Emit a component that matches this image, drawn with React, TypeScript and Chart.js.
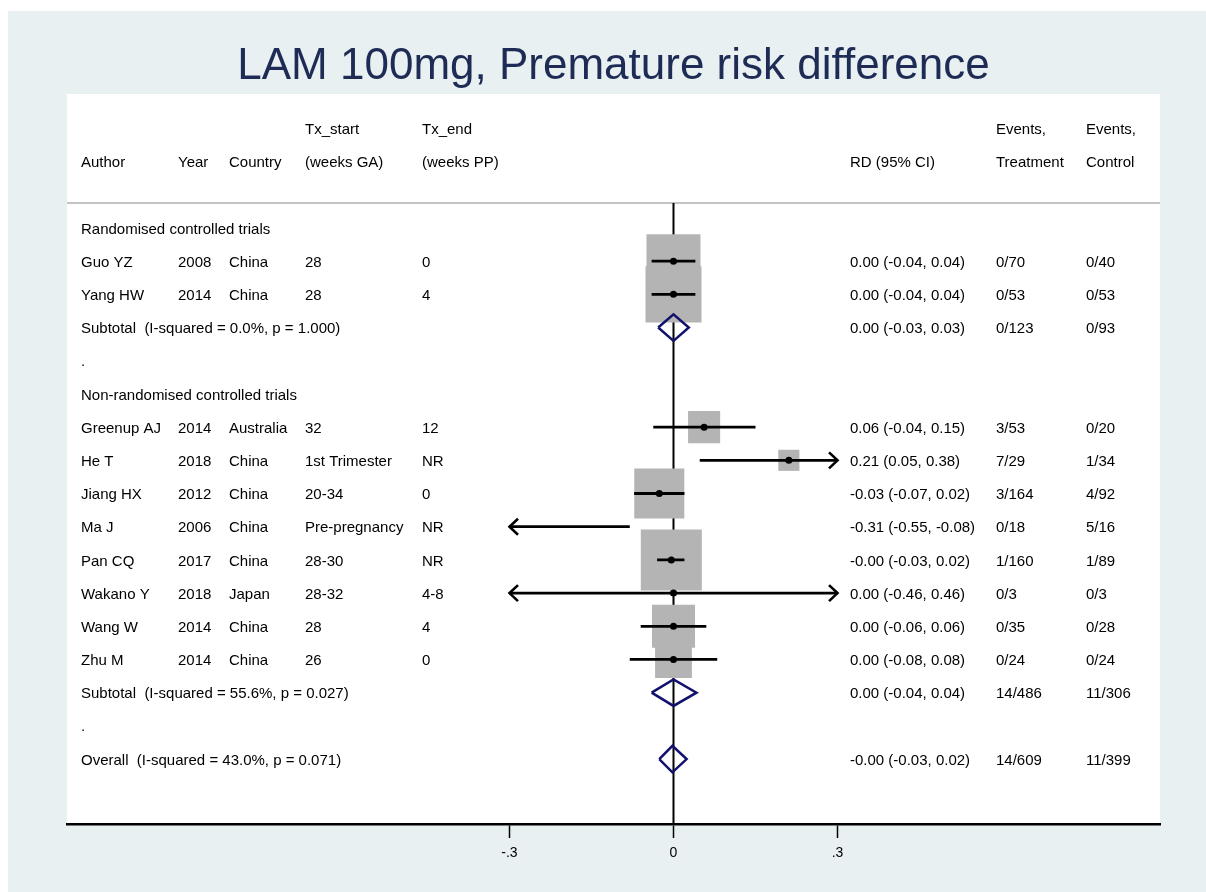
import { useEffect, useRef } from "react";
import { Chart, registerables } from "chart.js";

Chart.register(...registerables);

const FONT = '"Liberation Sans", Arial, Helvetica, sans-serif';

// ---- study-level data ----
const authors = ["Guo YZ", "Yang HW", "Greenup AJ", "He T", "Jiang HX", "Ma J", "Pan CQ", "Wakano Y", "Wang W", "Zhu M"];
const years = ["2008", "2014", "2014", "2018", "2012", "2006", "2017", "2018", "2014", "2014"];
const countries = ["China", "China", "Australia", "China", "China", "China", "China", "Japan", "China", "China"];
const txStart = ["28", "28", "32", "1st Trimester", "20-34", "Pre-pregnancy", "28-30", "28-32", "28", "26"];
const txEnd = ["0", "4", "12", "NR", "0", "NR", "NR", "4-8", "4", "0"];
const studyGroup = [0, 0, 1, 1, 1, 1, 1, 1, 1, 1];
const rdEst = [0.0, 0.0, 0.056, 0.211, -0.026, -0.31, -0.004, 0.0, 0.0, 0.0];
const rdLow = [-0.04, -0.04, -0.037, 0.048, -0.072, -0.55, -0.03, -0.46, -0.06, -0.08];
const rdHigh = [0.04, 0.04, 0.15, 0.38, 0.02, -0.08, 0.02, 0.46, 0.06, 0.08];
const studyWeights = [17.0, 18.3, 6.0, 2.6, 14.6, 0.9, 21.7, 0.2, 10.8, 7.9];
const eventsTx = ["0/70", "0/53", "3/53", "7/29", "3/164", "0/18", "1/160", "0/3", "0/35", "0/24"];
const eventsCtl = ["0/40", "0/53", "0/20", "1/34", "4/92", "5/16", "1/89", "0/3", "0/28", "0/24"];

// ---- subgroup and overall estimates ----
const groupNames = ["Randomised controlled trials", "Non-randomised controlled trials"];
const pooledLabels = [
  "Subtotal  (I-squared = 0.0%, p = 1.000)",
  "Subtotal  (I-squared = 55.6%, p = 0.027)",
  "Overall  (I-squared = 43.0%, p = 0.071)",
];
const pooledEst = [0.0, 0.0, -0.002];
const pooledLow = [-0.028, -0.04, -0.026];
const pooledHigh = [0.028, 0.042, 0.024];
const pooledEventsTx = ["0/123", "14/486", "14/609"];
const pooledEventsCtl = ["0/93", "11/306", "11/399"];

// ---- axis ----
const xTicks = [-0.3, 0, 0.3];
const xTickLabels = ["-.3", "0", ".3"];
const displayLimit = 0.3;

const titleText = "LAM 100mg, Premature risk difference";

// column headers: [x, upper line, lower line]
const headerCols: [number, string, string][] = [
  [81, "", "Author"],
  [178, "", "Year"],
  [229, "", "Country"],
  [305, "Tx_start", "(weeks GA)"],
  [422, "Tx_end", "(weeks PP)"],
  [850, "", "RD (95% CI)"],
  [996, "Events,", "Treatment"],
  [1086, "Events,", "Control"],
];

type Row =
  | { kind: "group"; g: number }
  | { kind: "study"; i: number }
  | { kind: "pooled"; p: number }
  | { kind: "spacer" };

function buildRows(): Row[] {
  const rows: Row[] = [];
  groupNames.forEach((_, g) => {
    rows.push({ kind: "group", g });
    studyGroup.forEach((sg, i) => {
      if (sg === g) rows.push({ kind: "study", i });
    });
    rows.push({ kind: "pooled", p: g });
    rows.push({ kind: "spacer" });
  });
  rows.push({ kind: "pooled", p: groupNames.length });
  return rows;
}

const rows = buildRows();
const fmt = (v: number) => v.toFixed(2);
const rdText = (e: number, l: number, h: number) => `${fmt(e)} (${fmt(l)}, ${fmt(h)})`;

// value ranges of the plot region
const X_MIN = -1.1094;
const X_MAX = 0.8899;
const Y_MIN = -4.037;
const Y_MAX = 17.957;
const SEP_ROW = -0.753;
const DIAMOND_HALF = 0.4;
const BOX_SCALE = 13.1;
const TEXT_NUDGE = 1.5;

export default function App() {
  const ref = useRef<HTMLCanvasElement>(null);

  useEffect(() => {
    const canvas = ref.current;
    if (!canvas) return;

    const boxes: any[] = [];
    const dots: any[] = [];
    const ciSegs: any[] = [];
    const diamonds: any[] = [];
    const arrows: { row: number; side: number }[] = [];

    rows.forEach((row, r) => {
      if (row.kind === "study") {
        const i = row.i;
        const lo = Math.max(rdLow[i], -displayLimit);
        const hi = Math.min(rdHigh[i], displayLimit);
        if (rdLow[i] < -displayLimit) arrows.push({ row: r, side: -1 });
        if (rdHigh[i] > displayLimit) arrows.push({ row: r, side: 1 });
        ciSegs.push({ x: lo, y: r }, { x: hi, y: r }, { x: null, y: null });
        if (Math.abs(rdEst[i]) <= displayLimit) {
          boxes.push({ x: rdEst[i], y: r, w: studyWeights[i] });
          dots.push({ x: rdEst[i], y: r });
        }
      } else if (row.kind === "pooled") {
        const p = row.p;
        diamonds.push(
          { x: pooledLow[p], y: r },
          { x: pooledEst[p], y: r - DIAMOND_HALF },
          { x: pooledHigh[p], y: r },
          { x: pooledEst[p], y: r + DIAMOND_HALF },
          { x: pooledLow[p], y: r },
          { x: null, y: null }
        );
      }
    });

    const backgroundPlugin = {
      id: "stataBackground",
      beforeDraw(chart: any) {
        const { ctx, width, height, chartArea } = chart;
        ctx.save();
        ctx.fillStyle = "#ffffff";
        ctx.fillRect(0, 0, width, height);
        ctx.fillStyle = "#e8f0f2";
        ctx.fillRect(8, 11, width - 8, height - 11);
        ctx.fillStyle = "#ffffff";
        ctx.fillRect(chartArea.left, chartArea.top, chartArea.right - chartArea.left, chartArea.bottom - chartArea.top);
        ctx.restore();
      },
    };

    const arrowPlugin = {
      id: "ciArrows",
      afterDatasetsDraw(chart: any) {
        const { ctx } = chart;
        const xs = chart.scales.x;
        const ys = chart.scales.y;
        ctx.save();
        ctx.strokeStyle = "#000";
        ctx.lineWidth = 2.6;
        ctx.lineJoin = "miter";
        arrows.forEach(({ row, side }) => {
          const tx = xs.getPixelForValue(side * displayLimit);
          const ty = ys.getPixelForValue(row);
          ctx.beginPath();
          ctx.moveTo(tx - side * 8.5, ty - 8);
          ctx.lineTo(tx, ty);
          ctx.lineTo(tx - side * 8.5, ty + 8);
          ctx.stroke();
        });
        ctx.restore();
      },
    };

    const tablePlugin = {
      id: "forestTable",
      afterDraw(chart: any) {
        const { ctx } = chart;
        const ys = chart.scales.y;
        const yAt = (r: number) => ys.getPixelForValue(r) + TEXT_NUDGE;
        ctx.save();
        ctx.font = `15px ${FONT}`;
        ctx.fillStyle = "#000";
        ctx.textAlign = "left";
        ctx.textBaseline = "middle";
        headerCols.forEach(([x, top, bottom]) => {
          if (top) ctx.fillText(top, x, yAt(-3));
          if (bottom) ctx.fillText(bottom, x, yAt(-2));
        });
        rows.forEach((row, r) => {
          const y = yAt(r);
          if (row.kind === "group") {
            ctx.fillText(groupNames[row.g], 81, y);
          } else if (row.kind === "spacer") {
            ctx.fillText(".", 81, y);
          } else if (row.kind === "study") {
            const i = row.i;
            ctx.fillText(authors[i], 81, y);
            ctx.fillText(years[i], 178, y);
            ctx.fillText(countries[i], 229, y);
            ctx.fillText(txStart[i], 305, y);
            ctx.fillText(txEnd[i], 422, y);
            ctx.fillText(rdText(rdEst[i], rdLow[i], rdHigh[i]), 850, y);
            ctx.fillText(eventsTx[i], 996, y);
            ctx.fillText(eventsCtl[i], 1086, y);
          } else {
            const p = row.p;
            ctx.fillText(pooledLabels[p], 81, y);
            ctx.fillText(rdText(pooledEst[p], pooledLow[p], pooledHigh[p]), 850, y);
            ctx.fillText(pooledEventsTx[p], 996, y);
            ctx.fillText(pooledEventsCtl[p], 1086, y);
          }
        });
        ctx.restore();
      },
    };

    const chart = new Chart(canvas, {
      type: "scatter",
      data: {
        datasets: [
          {
            label: "separator",
            data: [{ x: X_MIN, y: SEP_ROW }, { x: X_MAX, y: SEP_ROW }],
            showLine: true,
            borderColor: "#c4c4c4",
            borderWidth: 2,
            pointRadius: 0,
            order: 7,
          },
          {
            label: "no effect",
            data: [{ x: 0, y: SEP_ROW }, { x: 0, y: Y_MAX }],
            showLine: true,
            borderColor: "#000",
            borderWidth: 2,
            pointRadius: 0,
            order: 6,
          },
          {
            label: "weights",
            data: boxes,
            pointStyle: "rect",
            pointRadius: (c: any) => (BOX_SCALE * Math.sqrt(c.raw ? c.raw.w : 0)) / Math.SQRT2,
            pointBackgroundColor: "#b4b4b4",
            pointBorderWidth: 0,
            order: 5,
          },
          {
            label: "95% CI",
            data: ciSegs,
            showLine: true,
            spanGaps: false,
            borderColor: "#000",
            borderWidth: 2.8,
            borderCapStyle: "butt",
            pointRadius: 0,
            order: 4,
          },
          {
            label: "pooled",
            data: diamonds,
            showLine: true,
            spanGaps: false,
            borderColor: "#11116e",
            borderWidth: 2.5,
            borderJoinStyle: "miter",
            pointRadius: 0,
            order: 3,
          },
          {
            label: "RD",
            data: dots,
            pointStyle: "circle",
            pointRadius: 3.5,
            pointBackgroundColor: "#000",
            pointBorderWidth: 0,
            order: 2,
          },
        ] as any,
      },
      options: {
        animation: false,
        responsive: false,
        devicePixelRatio: 1,
        events: [],
        layout: { padding: { left: 67, right: 46, top: 0, bottom: 0 } },
        plugins: {
          legend: { display: false },
          tooltip: { enabled: false },
          title: {
            display: true,
            text: titleText,
            color: "#1e2c55",
            font: { family: FONT, size: 44, weight: "normal", lineHeight: 1.2 },
            padding: { top: 40.6, bottom: 0.6 },
          },
        },
        scales: {
          x: {
            type: "linear",
            min: X_MIN,
            max: X_MAX,
            afterBuildTicks: (s: any) => {
              s.ticks = xTicks.map((v) => ({ value: v }));
            },
            afterFit: (s: any) => {
              s.height = 68;
            },
            ticks: {
              autoSkip: false,
              maxRotation: 0,
              padding: 7,
              color: "#000",
              font: { family: FONT, size: 14 },
              callback: (_v: any, i: number) => xTickLabels[i],
            },
            grid: {
              drawOnChartArea: false,
              drawTicks: true,
              tickLength: 14,
              tickWidth: 1.5,
              tickColor: "#000",
            },
            border: { display: true, color: "#000", width: 2.5 },
          },
          y: {
            type: "linear",
            reverse: true,
            min: Y_MIN,
            max: Y_MAX,
            display: false,
          },
        },
      } as any,
      plugins: [backgroundPlugin, arrowPlugin, tablePlugin],
    });

    return () => chart.destroy();
  }, []);

  return (
    <div style={{ position: "fixed", left: 0, top: 0, width: 1206, height: 892 }}>
      <canvas ref={ref} width={1206} height={892} style={{ display: "block", width: 1206, height: 892 }} />
    </div>
  );
}
